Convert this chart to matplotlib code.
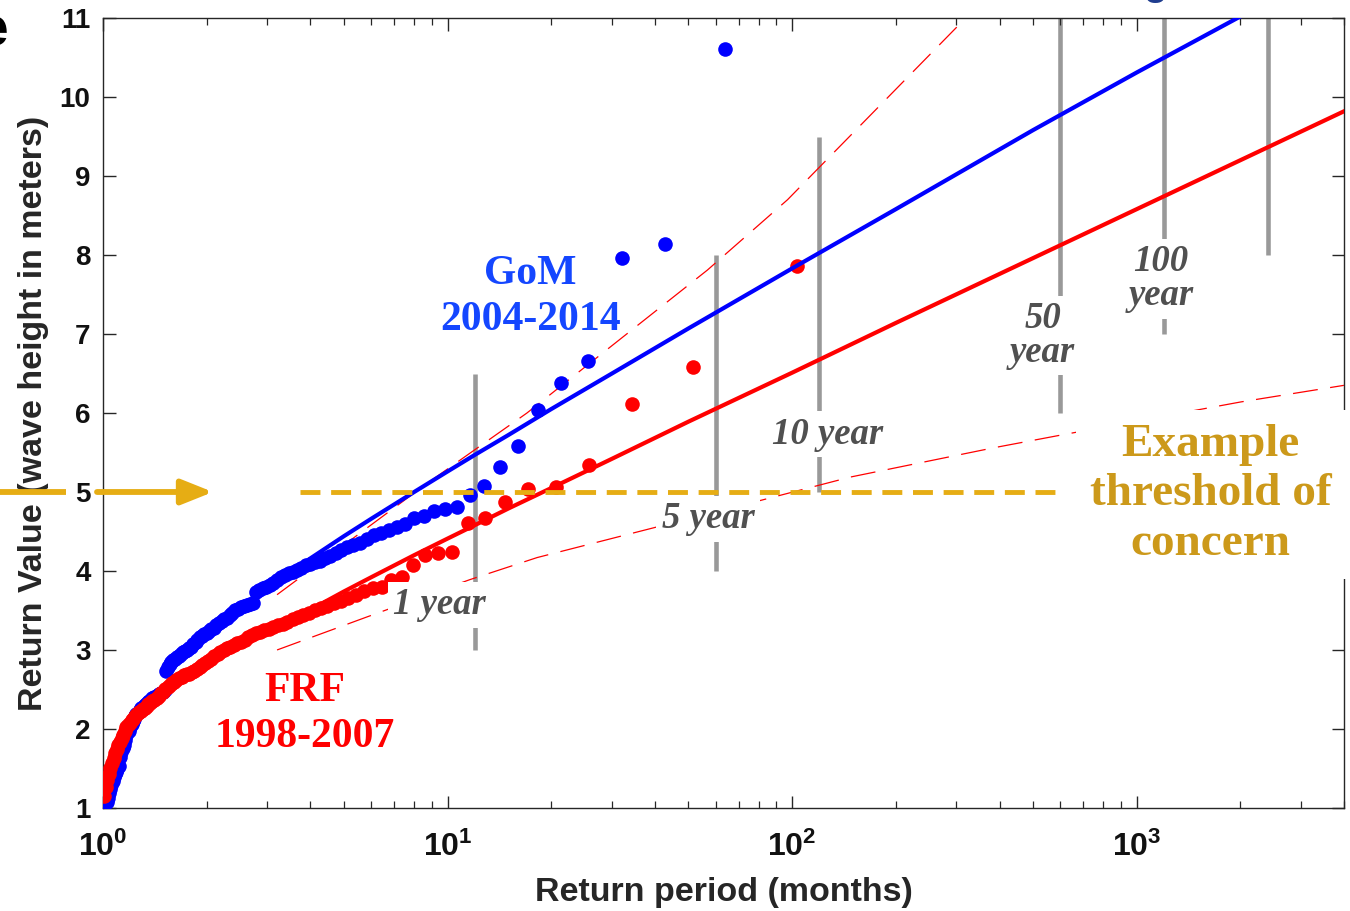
import matplotlib.pyplot as plt
import matplotlib.transforms as mtransforms
import numpy as np

plt.rcParams['font.family'] = ['Liberation Sans', 'DejaVu Sans']
plt.rcParams['mathtext.fontset'] = 'custom'
plt.rcParams['mathtext.rm'] = 'Liberation Sans:bold'
plt.rcParams['mathtext.bf'] = 'Liberation Sans:bold'
plt.rcParams['mathtext.default'] = 'rm'

# ---- empirical return values (months, metres) ----
gom_T = [64.0, 42.67, 32.0, 25.6, 21.33, 18.29, 16.0, 14.22, 12.8, 11.64,
         10.67, 9.85, 9.14, 8.53, 8.0, 7.53, 7.11, 6.74, 6.4, 6.10,
         5.82, 5.57, 5.33, 5.12, 4.92, 4.74, 4.57, 4.41, 4.27, 4.13,
         4.0, 3.88, 3.76, 3.66, 3.56, 3.46, 3.37, 3.28, 3.2, 3.12,
         3.05, 2.98, 2.91, 2.84, 2.78, 2.72, 2.67, 2.61, 2.56, 2.51,
         2.46, 2.42, 2.37, 2.33, 2.29, 2.25, 2.21, 2.17, 2.13, 2.10,
         2.06, 2.03, 2.0, 1.97, 1.94, 1.91, 1.88, 1.86, 1.83, 1.80,
         1.78, 1.75, 1.73, 1.71, 1.68, 1.66, 1.64, 1.62, 1.6, 1.58,
         1.56, 1.54, 1.52, 1.51, 1.49, 1.47, 1.45, 1.44, 1.42, 1.41,
         1.39, 1.38, 1.36, 1.35, 1.33, 1.32, 1.31, 1.29, 1.28, 1.27,
         1.25, 1.24, 1.23, 1.22, 1.21, 1.20, 1.19, 1.17, 1.16, 1.15,
         1.14, 1.13, 1.12, 1.11, 1.10, 1.09, 1.085, 1.076, 1.067, 1.058,
         1.049, 1.041, 1.032, 1.024, 1.016, 1.008]
gom_H = [10.61, 8.14, 7.96, 6.66, 6.38, 6.04, 5.58, 5.32, 5.08, 4.96,
         4.81, 4.79, 4.76, 4.69, 4.67, 4.60, 4.56, 4.52, 4.48, 4.45,
         4.41, 4.36, 4.33, 4.30, 4.27, 4.23, 4.19, 4.16, 4.13, 4.11,
         4.09, 4.07, 4.04, 4.01, 3.99, 3.97, 3.95, 3.92, 3.89, 3.85,
         3.82, 3.80, 3.78, 3.76, 3.74, 3.60, 3.58, 3.57, 3.56, 3.54,
         3.52, 3.50, 3.47, 3.44, 3.41, 3.39, 3.37, 3.34, 3.31, 3.28,
         3.26, 3.24, 3.22, 3.20, 3.18, 3.16, 3.13, 3.10, 3.07, 3.04,
         3.02, 3.00, 2.99, 2.97, 2.95, 2.93, 2.91, 2.89, 2.87, 2.85,
         2.82, 2.78, 2.73, 2.49, 2.47, 2.46, 2.44, 2.43, 2.41, 2.40,
         2.39, 2.37, 2.36, 2.34, 2.32, 2.30, 2.28, 2.26, 2.24, 2.22,
         2.19, 2.16, 2.13, 2.10, 2.06, 2.02, 1.98, 1.93, 1.86, 1.80,
         1.76, 1.71, 1.65, 1.53, 1.49, 1.46, 1.43, 1.39, 1.34, 1.29,
         1.24, 1.19, 1.13, 1.08, 1.06, 1.05]

frf_T = [103.0, 51.5, 34.33, 25.75, 20.6, 17.17, 14.71, 12.88, 11.44, 10.3,
         9.36, 8.58, 7.92, 7.36, 6.87, 6.44, 6.06, 5.72, 5.42, 5.15,
         4.90, 4.68, 4.48, 4.29, 4.12, 3.96, 3.81, 3.68, 3.55, 3.43,
         3.32, 3.22, 3.12, 3.03, 2.94, 2.86, 2.78, 2.71, 2.64, 2.575,
         2.51, 2.45, 2.40, 2.34, 2.29, 2.24, 2.19, 2.15, 2.10, 2.06,
         2.02, 1.98, 1.94, 1.91, 1.87, 1.84, 1.81, 1.78, 1.75, 1.72,
         1.69, 1.66, 1.63, 1.61, 1.585, 1.56, 1.54, 1.515, 1.49, 1.47,
         1.45, 1.43, 1.41, 1.39, 1.373, 1.355, 1.338, 1.32, 1.304, 1.288,
         1.272, 1.256, 1.241, 1.226, 1.212, 1.198, 1.184, 1.17, 1.157, 1.144,
         1.132, 1.12, 1.108, 1.096, 1.084, 1.073, 1.062, 1.051, 1.04, 1.03,
         1.02, 1.01]
frf_H = [7.86, 6.58, 6.11, 5.34, 5.06, 5.04, 4.87, 4.67, 4.61, 4.24,
         4.23, 4.20, 4.08, 3.92, 3.89, 3.80, 3.78, 3.75, 3.70, 3.66,
         3.62, 3.59, 3.56, 3.53, 3.50, 3.47, 3.44, 3.42, 3.39, 3.35,
         3.33, 3.31, 3.29, 3.27, 3.25, 3.23, 3.21, 3.19, 3.16, 3.13,
         3.10, 3.09, 3.06, 3.04, 3.02, 3.00, 2.98, 2.95, 2.92, 2.89,
         2.86, 2.84, 2.81, 2.78, 2.76, 2.74, 2.72, 2.70, 2.69, 2.68,
         2.66, 2.64, 2.62, 2.60, 2.58, 2.56, 2.53, 2.50, 2.47, 2.45,
         2.42, 2.39, 2.37, 2.35, 2.33, 2.31, 2.29, 2.27, 2.25, 2.23,
         2.21, 2.19, 2.16, 2.13, 2.11, 2.08, 2.05, 2.02, 1.98, 1.92,
         1.88, 1.84, 1.80, 1.75, 1.70, 1.63, 1.57, 1.50, 1.43, 1.35,
         1.27, 1.15]

# ---- fitted return level curves ----
gom_fit_T = [4, 5, 6, 8, 10, 12, 15, 20, 30, 50, 100, 200, 500, 1000, 2000]
gom_fit_H = [4.16, 4.44, 4.66, 5.00, 5.26, 5.47, 5.72, 6.05, 6.50, 7.07,
             7.83, 8.58, 9.58, 10.31, 11.02]
frf_fit_T = [3, 4, 5, 6, 8, 10, 12, 15, 20, 30, 50, 100, 200, 500, 1000,
             2000, 4000]
frf_fit_H = [3.20, 3.51, 3.74, 3.92, 4.20, 4.41, 4.58, 4.79, 5.05, 5.42,
             5.89, 6.51, 7.14, 7.96, 8.58, 9.20, 9.82]

# confidence bounds (red dashed)
upper_T = [3.2, 8.73, 17.0, 56.8, 97.0, 319.0, 340.0]
upper_H = [3.70, 5.11, 6.00, 7.81, 8.70, 11.0, 11.1]
lower_T = [3.2, 5.85, 11.6, 18.2, 75.7, 148.0, 385.0, 602.0, 2006.0, 3995.0]
lower_H = [3.00, 3.42, 3.89, 4.17, 4.86, 5.19, 5.56, 5.72, 6.14, 6.35]

# ---- return period markers (months) ----
period_T = [12, 60, 120, 600, 1200, 2400]
period_lo = [3.0, 4.0, 5.0, 6.0, 7.0, 8.0]
period_hi = [6.5, 8.0, 9.5, 11.0, 11.0, 11.0]
period_labels = ['1 year', '5 year', '10 year', '50\nyear', '100\nyear']
label_T = [9.5, 57.0, 127.0, 533.0, 1175.0]
label_H = [3.57, 4.66, 5.73, 6.98, 7.70]

threshold = 5.0
threshold_T = [3.73, 620.0]

gold = '#E6AD14'
serif = ['Liberation Serif', 'DejaVu Serif']

fig = plt.figure(figsize=(13.5, 9.11), dpi=100)
ax = fig.add_axes([0.0763, 0.1131, 0.9193, 0.8671])

ax.vlines(period_T, period_lo, period_hi, colors='#999999', lw=3.3, zorder=1)

ax.plot(upper_T, upper_H, color='red', lw=0.9, ls=(0, (20, 10)), zorder=2)
ax.plot(lower_T, lower_H, color='red', lw=0.9, ls=(0, (20, 10)), zorder=2)

ax.plot(gom_T, gom_H, 'o', color='blue', ms=10.5, mec='none', zorder=3)
ax.plot(frf_T, frf_H, 'o', color='red', ms=10.5, mec='none', zorder=3)
ax.plot(gom_fit_T, gom_fit_H, color='blue', lw=3.0, zorder=3)
ax.plot(frf_fit_T, frf_fit_H, color='red', lw=3.0, zorder=3)

for lab, tx, hy in zip(period_labels, label_T, label_H):
    ax.text(tx, hy, lab, ha='center', va='center', fontsize=26.5,
            family=serif, style='italic', fontweight='bold', color='#505050',
            linespacing=0.95, zorder=5,
            bbox=dict(boxstyle='square,pad=0.15', fc='white', ec='none'))

ax.plot(threshold_T, [threshold, threshold], color=gold, lw=3.5,
        ls=(0, (4.1, 2.2)), zorder=6)

ax.text(17.4, 7.47, 'GoM\n2004-2014', ha='center', va='center', fontsize=30,
        family=serif, fontweight='bold', color='#1446FF', linespacing=1.25,
        zorder=5)
ax.text(3.86, 2.19, 'FRF\n1998-2007', ha='center', va='center', fontsize=30,
        family=serif, fontweight='bold', color='#FF0000', linespacing=1.25,
        zorder=5)
ax.text(1640, 4.97, 'Example\nthreshold of\nconcern', ha='center',
        va='center', fontsize=34, family=serif, fontweight='bold',
        color='#CC991A', linespacing=1.24, zorder=7,
        bbox=dict(boxstyle='square,pad=0.3', fc='white', ec='none'))

# arrow pointing at the threshold from outside the axes
trans = mtransforms.blended_transform_factory(fig.transFigure, ax.transData)
ax.plot([0.0, 66 / 1350], [threshold, threshold], color=gold, lw=4.2,
        transform=trans, clip_on=False, solid_capstyle='butt')
ax.annotate('', xy=(213 / 1350, threshold), xycoords=trans,
            xytext=(97 / 1350, threshold), textcoords=trans,
            annotation_clip=False,
            arrowprops=dict(arrowstyle='-|>,head_length=0.95,head_width=0.38',
                            mutation_scale=20, lw=4.2, color=gold,
                            shrinkA=0, shrinkB=0))

ax.set_xscale('log')
ax.set_xlim(1, 4000)
ax.set_ylim(1, 11)
ax.set_yticks(range(1, 12))
ax.set_xticks([1, 10, 100, 1000])
ax.set_xticklabels([r'$10^{0}$', r'$10^{1}$', r'$10^{2}$', r'$10^{3}$'])

ax.tick_params(which='both', direction='in', top=True, right=True,
               colors='#262626', labelcolor='#111111')
ax.tick_params(which='major', length=9, width=1.0)
ax.tick_params(which='minor', length=5, width=0.9)
ax.tick_params(axis='y', which='major', labelsize=20, pad=9)
ax.tick_params(axis='x', which='major', labelsize=23, pad=17)
for lbl in ax.get_yticklabels():
    lbl.set_fontweight('bold')
    lbl.set_bbox(dict(boxstyle='square,pad=0.05', fc='white', ec='none'))
for sp in ax.spines.values():
    sp.set_color('#262626')
    sp.set_linewidth(1.0)

ax.set_xlabel('Return period (months)', fontsize=24.5, fontweight='bold',
              color='#262626', labelpad=10)
ax.set_ylabel('Return Value (wave height in meters)', fontsize=24.5,
              fontweight='bold', color='#262626', labelpad=8)

# panel letter and caption fragment cut by the top edge
fig.text(-0.0148, 1 - 45 / 911, 'e', fontsize=37, fontweight='bold',
         color='black', va='baseline', ha='left')
fig.text(0.8556, 1.0055, 'g', fontsize=28, fontweight='bold',
         color='#1F3D8F', va='baseline', ha='center')

fig.savefig('out.png', dpi=100)
